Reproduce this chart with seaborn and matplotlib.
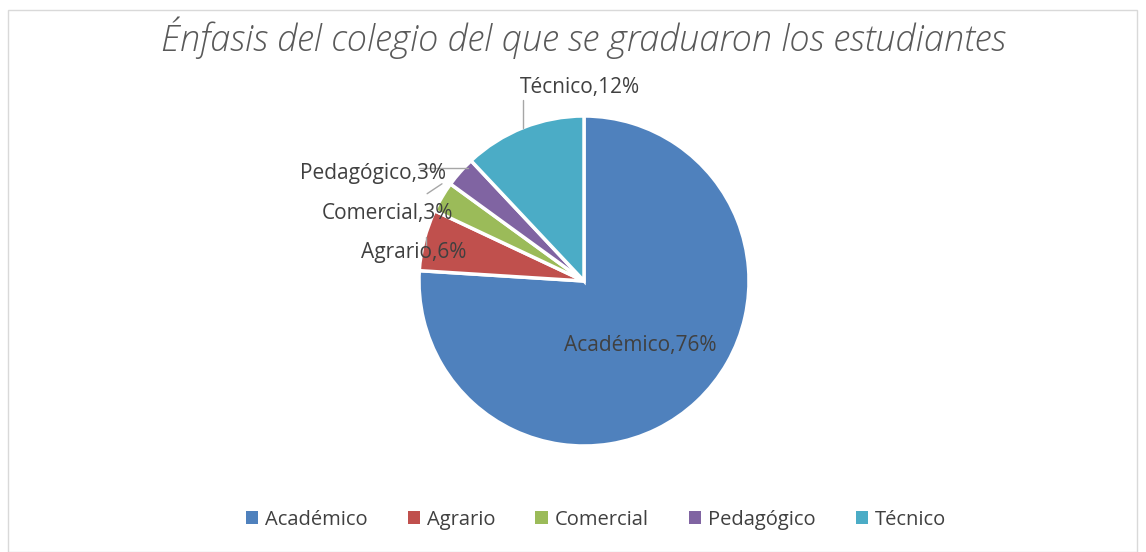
import matplotlib
matplotlib.use("Agg")
import matplotlib.pyplot as plt
import numpy as np
import seaborn as sns
from matplotlib.patches import Rectangle

sns.set_theme(style="white")
plt.rcParams['font.family'] = ['Open Sans', 'DejaVu Sans']

categorias = ["Académico", "Agrario", "Comercial", "Pedagógico", "Técnico"]
porcentajes = [76, 6, 3, 3, 12]
colores = ["#4F81BD", "#C0504D", "#9BBB59", "#8064A2", "#4BACC6"]
titulo = "Énfasis del colegio del que se graduaron los estudiantes"

W, H = 1146, 552
fig = plt.figure(figsize=(W / 100, H / 100), dpi=100)
fig.patch.set_facecolor("white")

# pie centre / radius in pixels
cx, cy, r = 584, 281, 165
ax = fig.add_axes([(cx - r) / W, (H - cy - r) / H, 2 * r / W, 2 * r / H])

wedges, _ = ax.pie(porcentajes, colors=colores, startangle=90, counterclock=False,
                   wedgeprops=dict(edgecolor="white", linewidth=2.5))
ax.set_xlim(-1, 1)
ax.set_ylim(-1, 1)
ax.set_aspect("equal")
ax.axis("off")

gris = "#404040"
linea = "#A6A6A6"
# label positions (data coords)
pos_txt = {
    "Académico": (0.34, -0.39),
    "Técnico": (-0.024, 1.17),
    "Pedagógico": (-1.28, 0.65),
    "Comercial": (-1.19, 0.41),
    "Agrario": (-1.03, 0.17),
}
for w, cat, p in zip(wedges, categorias, porcentajes):
    ang = np.deg2rad((w.theta1 + w.theta2) / 2)
    lab = f"{cat},{p}%"
    tx, ty = pos_txt[cat]
    ax.text(tx, ty, lab, ha="center", va="center", fontsize=15, color=gris, zorder=5)
    ex, ey = np.cos(ang), np.sin(ang)
    if cat == "Técnico":
        ax.plot([ex, ex], [ey, ty - 0.07], color=linea, lw=1, clip_on=False)
    elif cat == "Pedagógico":
        ax.plot([ex + 0.05, ex - 0.25], [0.685, 0.685], color=linea, lw=1, clip_on=False, zorder=4)
    elif cat == "Comercial":
        ax.plot([ex + 0.0, ex - 0.09], [ey + 0.08, ey + 0.02], color=linea, lw=1, clip_on=False, zorder=4)
    elif cat == "Agrario":
        ax.plot([ex + 0.01, ex + 0.01], [ey + 0.02, ey - 0.04], color=linea, lw=1, clip_on=False, zorder=4)

fig.text(0.509, 0.931, titulo, ha="center", va="center", fontsize=26, style="italic",
         color="#595959", fontweight="light")

handles = [Rectangle((0, 0), 1, 1, facecolor=c, edgecolor="none") for c in colores]
fig.legend(handles, categorias, loc="center", bbox_to_anchor=(0.52, 0.058), ncol=5, frameon=False,
           fontsize=14.5, handlelength=0.6, handleheight=0.6, handletextpad=0.35, columnspacing=2.0,
           labelcolor=gris)

fig.add_artist(Rectangle((8 / W, 0.0), (1137 - 8) / W, 1 - 10 / H, transform=fig.transFigure,
                         fill=False, edgecolor="#D9D9D9", lw=1))

fig.savefig("out.png", dpi=100)
